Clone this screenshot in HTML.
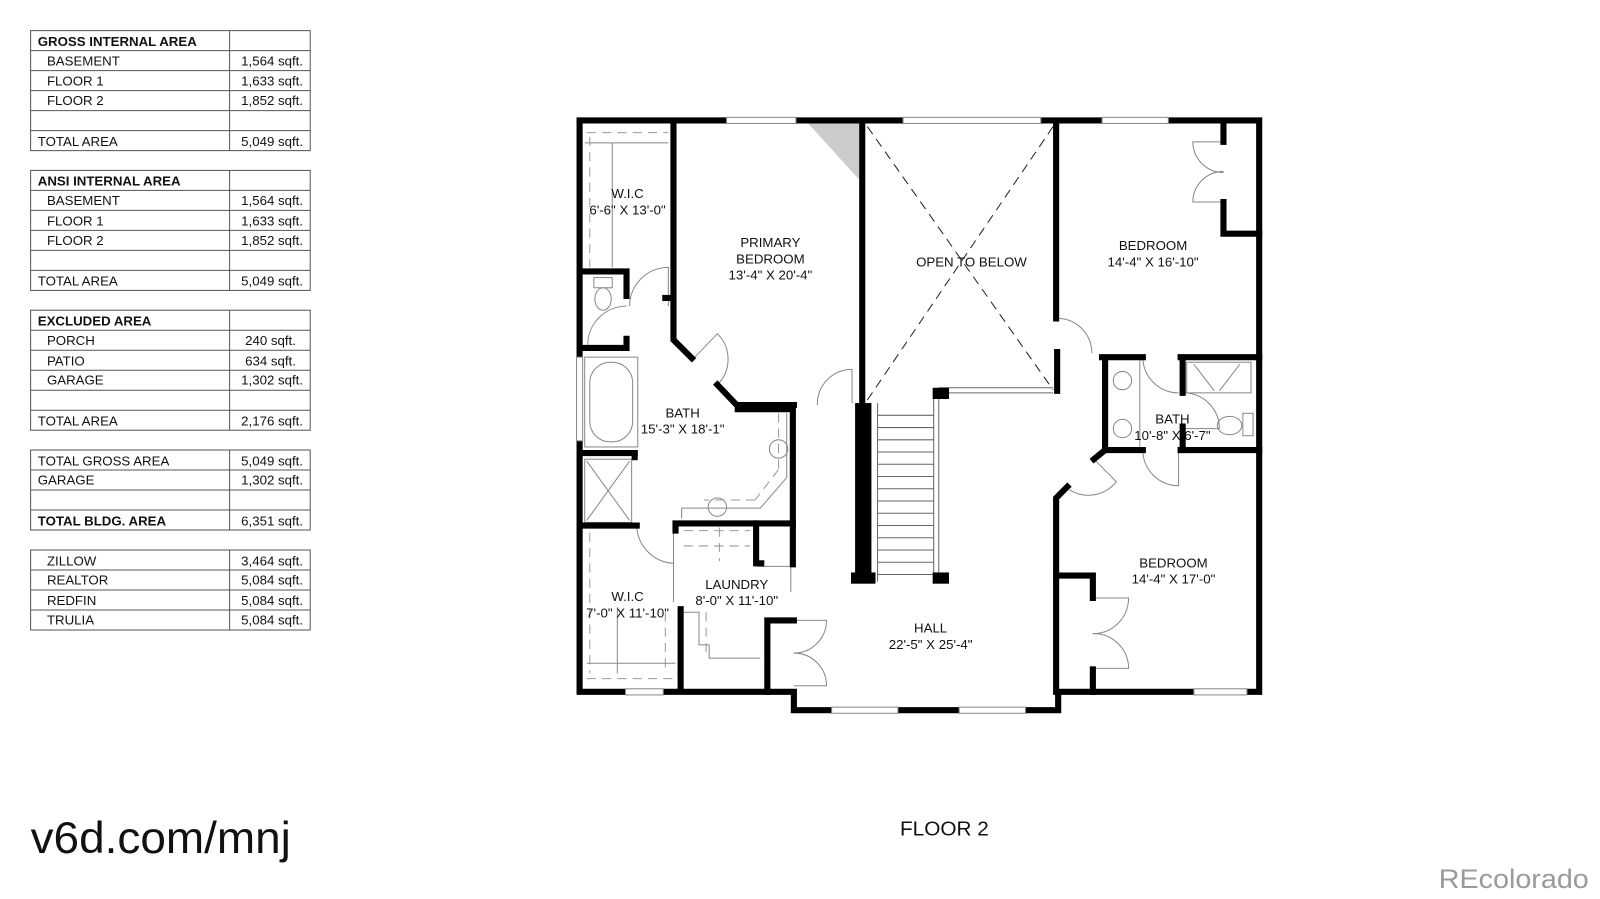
<!DOCTYPE html>
<html><head><meta charset="utf-8"><style>
html,body{margin:0;padding:0;background:#fff;}
svg{display:block;}
text{font-family:"Liberation Sans",Arial,sans-serif;}
</style></head><body>
<svg width="1600" height="899" viewBox="0 0 1568 881" xmlns="http://www.w3.org/2000/svg">
<rect width="1568" height="881" fill="#fff"/>
<g stroke="#555" stroke-width="1" fill="none">
<rect x="30" y="30" width="274" height="117.6"/><line x1="225" y1="30" x2="225" y2="147.6"/>
<line x1="30" y1="49.6" x2="304" y2="49.6"/><line x1="30" y1="69.2" x2="304" y2="69.2"/><line x1="30" y1="88.8" x2="304" y2="88.8"/><line x1="30" y1="108.4" x2="304" y2="108.4"/><line x1="30" y1="128" x2="304" y2="128"/>
<rect x="30" y="167" width="274" height="117.6"/><line x1="225" y1="167" x2="225" y2="284.6"/>
<line x1="30" y1="186.6" x2="304" y2="186.6"/><line x1="30" y1="206.2" x2="304" y2="206.2"/><line x1="30" y1="225.8" x2="304" y2="225.8"/><line x1="30" y1="245.4" x2="304" y2="245.4"/><line x1="30" y1="265" x2="304" y2="265"/>
<rect x="30" y="304" width="274" height="117.6"/><line x1="225" y1="304" x2="225" y2="421.6"/>
<line x1="30" y1="323.6" x2="304" y2="323.6"/><line x1="30" y1="343.2" x2="304" y2="343.2"/><line x1="30" y1="362.8" x2="304" y2="362.8"/><line x1="30" y1="382.4" x2="304" y2="382.4"/><line x1="30" y1="402" x2="304" y2="402"/>
<rect x="30" y="441" width="274" height="78.4"/><line x1="225" y1="441" x2="225" y2="519.4"/>
<line x1="30" y1="460.6" x2="304" y2="460.6"/><line x1="30" y1="480.2" x2="304" y2="480.2"/><line x1="30" y1="499.8" x2="304" y2="499.8"/>
<rect x="30" y="539" width="274" height="78.4"/><line x1="225" y1="539" x2="225" y2="617.4"/>
<line x1="30" y1="558.6" x2="304" y2="558.6"/><line x1="30" y1="578.2" x2="304" y2="578.2"/><line x1="30" y1="597.8" x2="304" y2="597.8"/>
</g>
<g font-size="13" fill="#111">
<text x="37" y="45" font-weight="bold">GROSS INTERNAL AREA</text>
<text x="46" y="64">BASEMENT</text><text x="297" y="64" text-anchor="end">1,564 sqft.</text>
<text x="46" y="84">FLOOR 1</text><text x="297" y="84" text-anchor="end">1,633 sqft.</text>
<text x="46" y="103">FLOOR 2</text><text x="297" y="103" text-anchor="end">1,852 sqft.</text>
<text x="37" y="143">TOTAL AREA</text><text x="297" y="143" text-anchor="end">5,049 sqft.</text>
<text x="37" y="182" font-weight="bold">ANSI INTERNAL AREA</text>
<text x="46" y="201">BASEMENT</text><text x="297" y="201" text-anchor="end">1,564 sqft.</text>
<text x="46" y="221">FLOOR 1</text><text x="297" y="221" text-anchor="end">1,633 sqft.</text>
<text x="46" y="240">FLOOR 2</text><text x="297" y="240" text-anchor="end">1,852 sqft.</text>
<text x="37" y="280">TOTAL AREA</text><text x="297" y="280" text-anchor="end">5,049 sqft.</text>
<text x="37" y="319" font-weight="bold">EXCLUDED AREA</text>
<text x="46" y="338">PORCH</text><text x="290" y="338" text-anchor="end">240 sqft.</text>
<text x="46" y="358">PATIO</text><text x="290" y="358" text-anchor="end">634 sqft.</text>
<text x="46" y="377">GARAGE</text><text x="297" y="377" text-anchor="end">1,302 sqft.</text>
<text x="37" y="417">TOTAL AREA</text><text x="297" y="417" text-anchor="end">2,176 sqft.</text>
<text x="37" y="456">TOTAL GROSS AREA</text><text x="297" y="456" text-anchor="end">5,049 sqft.</text>
<text x="37" y="475">GARAGE</text><text x="297" y="475" text-anchor="end">1,302 sqft.</text>
<text x="37" y="515" font-weight="bold">TOTAL BLDG. AREA</text><text x="297" y="515" text-anchor="end">6,351 sqft.</text>
<text x="46" y="554">ZILLOW</text><text x="297" y="554" text-anchor="end">3,464 sqft.</text>
<text x="46" y="573">REALTOR</text><text x="297" y="573" text-anchor="end">5,084 sqft.</text>
<text x="46" y="593">REDFIN</text><text x="297" y="593" text-anchor="end">5,084 sqft.</text>
<text x="46" y="612">TRULIA</text><text x="297" y="612" text-anchor="end">5,084 sqft.</text>
</g>
<text x="30" y="836" font-size="44" fill="#111" textLength="255" lengthAdjust="spacingAndGlyphs">v6d.com/mnj</text>
<text x="882" y="819" font-size="20" fill="#111" textLength="87" lengthAdjust="spacingAndGlyphs">FLOOR 2</text>
<text x="1410" y="870" font-size="26" fill="#9a9a9a" textLength="147" lengthAdjust="spacingAndGlyphs">REcolorado</text>

<polygon points="792,121 842,121 842,176" fill="#ccc"/>
<g stroke="#222" stroke-width="1" stroke-dasharray="9,6" fill="none">
<line x1="850" y1="124" x2="1032" y2="382"/><line x1="1032" y1="124" x2="850" y2="392"/>
<line x1="575" y1="130" x2="655" y2="130" stroke="#999"/><line x1="578" y1="134" x2="578" y2="262" stroke="#999"/>
<line x1="575" y1="665" x2="662" y2="665" stroke="#999"/><line x1="578" y1="522" x2="578" y2="660" stroke="#999"/>
<line x1="652" y1="600" x2="652" y2="660" stroke="#999"/><line x1="692" y1="600" x2="692" y2="640" stroke="#999"/>
<line x1="670" y1="520" x2="735" y2="520" stroke="#999"/><line x1="670" y1="535" x2="735" y2="535" stroke="#999"/><line x1="705" y1="517" x2="705" y2="550" stroke="#999"/>
<line x1="763" y1="405" x2="763" y2="460" stroke="#999"/><line x1="763" y1="460" x2="740" y2="490" stroke="#999"/><line x1="740" y1="490" x2="690" y2="490" stroke="#999"/>
</g>
<g stroke="#888" stroke-width="1" fill="none">
<line x1="573" y1="140" x2="655" y2="140"/><line x1="600" y1="140" x2="600" y2="262"/>
<rect x="578" y="355" width="42" height="78" rx="20"/><rect x="573" y="350" width="52" height="88"/>
<ellipse cx="591" cy="293" rx="8" ry="11"/><rect x="582" y="272" width="18" height="10"/>
<rect x="573" y="450" width="46" height="62"/><line x1="575" y1="452" x2="617" y2="510"/><line x1="617" y1="452" x2="575" y2="510"/>
<circle cx="763" cy="440" r="9"/><circle cx="703" cy="497" r="9"/>
<polyline points="771,405 771,468 745,498 668,498 668,508"/>
<polyline points="668,600 685,600 685,632 695,632 695,645 745,645"/>
<line x1="605" y1="595" x2="605" y2="660"/><line x1="575" y1="650" x2="662" y2="650"/>
<circle cx="1100" cy="373" r="9"/><circle cx="1100" cy="420" r="9"/><line x1="1117" y1="352" x2="1117" y2="438"/>
<rect x="1163" y="355" width="63" height="30"/><ellipse cx="1205" cy="417" rx="12" ry="9"/><rect x="1218" y="405" width="10" height="22"/>
<line x1="1170" y1="357" x2="1190" y2="383"/><line x1="1215" y1="357" x2="1195" y2="383"/>
<path d="M617,300 A38,38 0 0 1 655,262 L655,300"/>
<path d="M576,338 A38,38 0 0 1 614,300"/>
<path d="M680,351 L703,327 A35,35 0 0 1 703,377"/>
<path d="M801,397 A34,34 0 0 1 835,362 L835,395"/>
<path d="M624,515 A38,38 0 0 0 660,552"/><line x1="660" y1="515" x2="660" y2="590"/>
<path d="M742,555 L775,555 L775,580"/>
<path d="M778,608 L810,608 A32,32 0 0 1 778,640"/><path d="M778,672 L810,672 A32,32 0 0 0 778,640"/>
<path d="M1038,312 A34,34 0 0 1 1070,346"/>
<path d="M1120,350 A35,35 0 0 0 1155,385"/><path d="M1160,385 A35,35 0 0 1 1195,420 L1160,420"/>
<path d="M1120,441 A35,35 0 0 0 1155,476 L1155,441"/>
<path d="M1072,450 L1094,472 A35,35 0 0 1 1048,480"/>
<path d="M1199,139 L1169,139 A30,30 0 0 0 1199,169"/><path d="M1199,198 L1169,198 A30,30 0 0 1 1199,168"/>
<path d="M1071,586 L1106,586 A35,35 0 0 1 1071,621"/><path d="M1071,655 L1106,655 A34,34 0 0 0 1071,621"/>
<line x1="1035" y1="385" x2="1035" y2="345"/>
</g>
<g stroke="#666" stroke-width="1">
<line x1="860" y1="395" x2="860" y2="570"/><line x1="915" y1="391" x2="915" y2="565"/><line x1="920" y1="391" x2="920" y2="565"/>
<line x1="920" y1="385" x2="1032" y2="385"/><line x1="920" y1="380" x2="1032" y2="380"/>
<line x1="860" y1="407" x2="915" y2="407"/><line x1="860" y1="419" x2="915" y2="419"/><line x1="860" y1="431" x2="915" y2="431"/><line x1="860" y1="443" x2="915" y2="443"/><line x1="860" y1="455" x2="915" y2="455"/><line x1="860" y1="467" x2="915" y2="467"/><line x1="860" y1="479" x2="915" y2="479"/><line x1="860" y1="491" x2="915" y2="491"/><line x1="860" y1="503" x2="915" y2="503"/><line x1="860" y1="515" x2="915" y2="515"/><line x1="860" y1="527" x2="915" y2="527"/><line x1="860" y1="539" x2="915" y2="539"/><line x1="860" y1="551" x2="915" y2="551"/><line x1="860" y1="563" x2="915" y2="563"/>
</g>
<g stroke="#000" stroke-width="6" fill="none" stroke-linecap="square" stroke-linejoin="miter">
<polyline points="1037,678 1234,678 1234,118 568,118 568,678 778,678 778,696 1037,696 1037,678"/>
<polyline points="660,121 660,333 678,351"/>
<polyline points="703,377 722,397 778,397"/>
<line x1="845" y1="121" x2="845" y2="395"/>
<line x1="1035" y1="121" x2="1035" y2="312"/>
<line x1="1036" y1="345" x2="1036" y2="383"/>
<polyline points="571,266 614,266 614,290"/><polyline points="571,341 614,341 614,332"/>
<line x1="652" y1="292" x2="657" y2="292"/>
<polyline points="571,444 622,444"/><line x1="622" y1="444" x2="622" y2="448"/>
<line x1="571" y1="515" x2="624" y2="515"/>
<polyline points="662,520 662,513 777,513"/>
<line x1="777" y1="400" x2="777" y2="553"/>
<polyline points="741,513 741,552 746,552"/>
<polyline points="752,678 752,608 778,608"/>
<line x1="667" y1="597" x2="667" y2="675"/>
<polyline points="1080,350 1120,350"/><polyline points="1157,350 1234,350"/>
<polyline points="1083,352 1083,441 1072,450"/><line x1="1083" y1="441" x2="1120" y2="441"/>
<line x1="1157" y1="441" x2="1234" y2="441"/>
<line x1="1159" y1="352" x2="1159" y2="385"/><line x1="1159" y1="418" x2="1159" y2="441"/>
<polyline points="1046,477 1035,488 1035,678"/>
<polyline points="1035,564 1071,564 1071,586"/><line x1="1071" y1="656" x2="1071" y2="678"/>
<polyline points="1199,121 1199,139"/><polyline points="1199,198 1199,229 1234,229"/>
</g>
<rect x="838" y="395" width="16" height="175" fill="#000"/>
<rect x="834" y="561" width="24" height="11" fill="#000"/>
<rect x="914" y="380" width="16" height="11" fill="#000"/>
<rect x="914" y="561" width="16" height="11" fill="#000"/>
<rect x="720" y="394" width="58" height="10" fill="#000"/>
<g fill="#fff" stroke="#888" stroke-width="1">
<rect x="712" y="115" width="68" height="6"/><rect x="885" y="115" width="135" height="6"/><rect x="1080" y="115" width="65" height="6"/>
<rect x="565" y="350" width="6" height="82"/>
<rect x="613" y="675" width="37" height="6"/><rect x="815" y="693" width="65" height="6"/><rect x="940" y="693" width="65" height="6"/><rect x="1170" y="675" width="52" height="6"/>
</g>
<g font-size="13" fill="#111" text-anchor="middle">
<text x="615" y="194">W.I.C</text><text x="615" y="210">6'-6" X 13'-0"</text>
<text x="755" y="242">PRIMARY</text><text x="755" y="258">BEDROOM</text><text x="755" y="274">13'-4" X 20'-4"</text>
<text x="952" y="261">OPEN TO BELOW</text>
<text x="1130" y="245">BEDROOM</text><text x="1130" y="261">14'-4" X 16'-10"</text>
<text x="669" y="409">BATH</text><text x="669" y="425">15'-3" X 18'-1"</text>
<text x="1149" y="415">BATH</text><text x="1149" y="431">10'-8" X 6'-7"</text>
<text x="615" y="589">W.I.C</text><text x="615" y="605">7'-0" X 11'-10"</text>
<text x="722" y="577">LAUNDRY</text><text x="722" y="593">8'-0" X 11'-10"</text>
<text x="912" y="620">HALL</text><text x="912" y="636">22'-5" X 25'-4"</text>
<text x="1150" y="556">BEDROOM</text><text x="1150" y="572">14'-4" X 17'-0"</text>
</g>
</svg>
</body></html>
